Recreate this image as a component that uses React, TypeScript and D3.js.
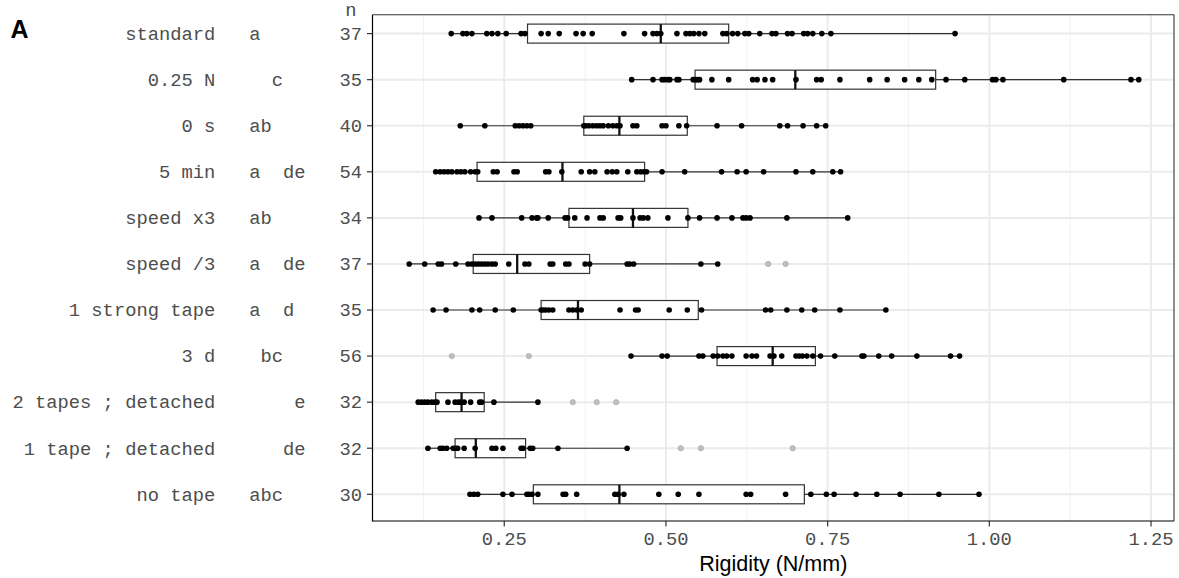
import React from 'react';
import * as d3 from 'd3';

// ---------- data ----------
const categories = [
  'standard', '0.25 N', '0 s', '5 min', 'speed x3', 'speed /3',
  '1 strong tape', '3 d', '2 tapes ; detached', '1 tape ; detached', 'no tape',
];
const letterGroups = ['a    ', '  c  ', 'ab   ', 'a  de', 'ab   ', 'a  de', 'a  d ', ' bc  ', '    e', '   de', 'abc  '];
const nCounts = [37, 35, 40, 54, 34, 37, 35, 56, 32, 32, 30];

// box statistics
const q1s = [0.286, 0.545, 0.373, 0.208, 0.350, 0.202, 0.307, 0.579, 0.144, 0.174, 0.295];
const medians = [0.492, 0.700, 0.428, 0.340, 0.449, 0.270, 0.364, 0.665, 0.184, 0.206, 0.428];
const q3s = [0.597, 0.917, 0.533, 0.467, 0.534, 0.382, 0.550, 0.731, 0.219, 0.283, 0.714];

// observations (within whiskers)
const standardPts = [0.168, 0.186, 0.192, 0.200, 0.223, 0.231, 0.240, 0.253, 0.276, 0.282, 0.307, 0.318, 0.335, 0.361, 0.372, 0.386, 0.435, 0.467, 0.480, 0.486, 0.492, 0.517, 0.531, 0.537, 0.543, 0.551, 0.560, 0.588, 0.594, 0.603, 0.611, 0.622, 0.628, 0.645, 0.664, 0.670, 0.688, 0.695, 0.713, 0.719, 0.727, 0.741, 0.755, 0.947];
const force025Pts = [0.447, 0.480, 0.494, 0.498, 0.503, 0.506, 0.517, 0.520, 0.542, 0.546, 0.549, 0.552, 0.571, 0.597, 0.634, 0.641, 0.653, 0.665, 0.701, 0.733, 0.740, 0.769, 0.815, 0.842, 0.869, 0.891, 0.911, 0.933, 0.962, 1.005, 1.010, 1.021, 1.115, 1.219, 1.231];
const zeroSecPts = [0.182, 0.220, 0.267, 0.273, 0.279, 0.285, 0.291, 0.373, 0.376, 0.381, 0.387, 0.393, 0.398, 0.403, 0.411, 0.418, 0.424, 0.429, 0.449, 0.455, 0.494, 0.500, 0.520, 0.532, 0.579, 0.617, 0.676, 0.688, 0.712, 0.733, 0.747];
const fiveMinPts = [0.144, 0.151, 0.157, 0.163, 0.169, 0.177, 0.183, 0.189, 0.198, 0.205, 0.209, 0.233, 0.239, 0.265, 0.270, 0.314, 0.319, 0.339, 0.369, 0.382, 0.390, 0.409, 0.417, 0.424, 0.441, 0.455, 0.461, 0.466, 0.470, 0.494, 0.529, 0.586, 0.610, 0.624, 0.651, 0.701, 0.727, 0.758, 0.770];
const speedX3Pts = [0.211, 0.231, 0.277, 0.293, 0.300, 0.302, 0.318, 0.344, 0.348, 0.359, 0.378, 0.398, 0.403, 0.426, 0.430, 0.449, 0.460, 0.465, 0.472, 0.503, 0.534, 0.552, 0.579, 0.602, 0.619, 0.624, 0.630, 0.687, 0.781];
const speedDiv3Pts = [0.103, 0.127, 0.148, 0.153, 0.175, 0.194, 0.200, 0.205, 0.210, 0.215, 0.220, 0.225, 0.231, 0.236, 0.257, 0.282, 0.288, 0.321, 0.325, 0.345, 0.350, 0.375, 0.382, 0.440, 0.444, 0.450, 0.554, 0.580];
const strongTapePts = [0.140, 0.160, 0.200, 0.212, 0.236, 0.264, 0.307, 0.310, 0.314, 0.319, 0.325, 0.350, 0.356, 0.362, 0.369, 0.429, 0.453, 0.457, 0.505, 0.533, 0.555, 0.654, 0.662, 0.687, 0.710, 0.730, 0.769, 0.840];
const threeDayPts = [0.446, 0.494, 0.502, 0.551, 0.557, 0.573, 0.580, 0.588, 0.594, 0.602, 0.624, 0.633, 0.640, 0.661, 0.667, 0.679, 0.701, 0.706, 0.711, 0.718, 0.727, 0.739, 0.761, 0.803, 0.806, 0.829, 0.849, 0.888, 0.940, 0.954];
const twoTapesPts = [0.117, 0.122, 0.127, 0.132, 0.138, 0.143, 0.146, 0.163, 0.174, 0.179, 0.183, 0.188, 0.198, 0.212, 0.215, 0.234, 0.302];
const oneTapePts = [0.132, 0.151, 0.155, 0.161, 0.171, 0.175, 0.178, 0.188, 0.205, 0.231, 0.237, 0.248, 0.276, 0.279, 0.290, 0.294, 0.333, 0.440];
const noTapePts = [0.197, 0.203, 0.209, 0.248, 0.262, 0.285, 0.288, 0.293, 0.302, 0.341, 0.345, 0.362, 0.421, 0.426, 0.435, 0.489, 0.519, 0.551, 0.624, 0.631, 0.685, 0.724, 0.748, 0.760, 0.794, 0.826, 0.862, 0.922, 0.984];

// outliers
const speedDiv3Out = [0.658, 0.685];
const threeDayOut = [0.169, 0.288];
const twoTapesOut = [0.356, 0.393, 0.423];
const oneTapeOut = [0.523, 0.554, 0.696];

const pointsByGroup = [standardPts, force025Pts, zeroSecPts, fiveMinPts, speedX3Pts, speedDiv3Pts, strongTapePts, threeDayPts, twoTapesPts, oneTapePts, noTapePts];
const outliersByGroup = [[], [], [], [], [], speedDiv3Out, [], threeDayOut, twoTapesOut, oneTapeOut, []];

const xMajorTicks = [0.25, 0.5, 0.75, 1.0, 1.25];
const xMinorTicks = [0.125, 0.375, 0.625, 0.875, 1.125];
const xDomain = [0.0463, 1.2855];
const xTitle = 'Rigidity (N/mm)';

// ---------- layout ----------
const W = 1179, H = 578;
const panel = { left: 372.5, right: 1174, top: 14.7, bottom: 521 };
const monoFont = "'Liberation Mono', 'DejaVu Sans Mono', monospace";
const sansFont = "'Liberation Sans', Arial, sans-serif";
const axisGray = '#4D4D4D';
const monoSize = 18.8;
const charW = monoSize * 0.6001;
const labelRight = 362;

export default function App() {
  const x = d3.scaleLinear().domain(xDomain).range([panel.left, panel.right]);
  const y = d3.scalePoint<string>().domain(categories).range([33.6, 494.3]);
  const boxH = 19;

  return (
    <svg width={W} height={H} style={{ position: 'absolute', left: 0, top: 0, background: '#fff' }}>
      <rect x={0} y={0} width={W} height={H} fill="#fff" />
      {/* grid */}
      {xMinorTicks.map((t) => (
        <line key={'mn' + t} x1={x(t)} x2={x(t)} y1={panel.top} y2={panel.bottom} stroke="#F2F2F2" strokeWidth={1} />
      ))}
      {xMajorTicks.map((t) => (
        <line key={'mj' + t} x1={x(t)} x2={x(t)} y1={panel.top} y2={panel.bottom} stroke="#EBEBEB" strokeWidth={2} />
      ))}
      {categories.map((c) => (
        <line key={'hg' + c} x1={panel.left} x2={panel.right} y1={y(c)} y2={y(c)} stroke="#EBEBEB" strokeWidth={2} />
      ))}

      {/* boxplots */}
      {categories.map((c, i) => {
        const cy = y(c) as number;
        const pts = pointsByGroup[i];
        const lo = d3.min(pts) as number;
        const hi = d3.max(pts) as number;
        return (
          <g key={'box' + c}>
            <line x1={x(lo)} x2={x(q1s[i])} y1={cy} y2={cy} stroke="#333" strokeWidth={1.2} />
            <line x1={x(q3s[i])} x2={x(hi)} y1={cy} y2={cy} stroke="#333" strokeWidth={1.2} />
            <rect x={x(q1s[i])} y={cy - boxH / 2} width={x(q3s[i]) - x(q1s[i])} height={boxH} fill="#fff" stroke="#333" strokeWidth={1.2} />
            <line x1={x(medians[i])} x2={x(medians[i])} y1={cy - boxH / 2} y2={cy + boxH / 2} stroke="#111" strokeWidth={2.3} />
          </g>
        );
      })}

      {/* outliers */}
      {categories.map((c, i) =>
        outliersByGroup[i].map((v, j) => (
          <circle key={'o' + i + '-' + j} cx={x(v)} cy={y(c)} r={2.7} fill="#BEBEBE" stroke="#A6A6A6" strokeWidth={0.6} />
        ))
      )}
      {/* points */}
      {categories.map((c, i) =>
        pointsByGroup[i].map((v, j) => (
          <circle key={'p' + i + '-' + j} cx={x(v)} cy={y(c)} r={2.8} fill="#000" />
        ))
      )}

      {/* panel border */}
      <line x1={panel.left} x2={panel.right} y1={panel.top} y2={panel.top} stroke="#333" strokeWidth={1.1} />
      <line x1={panel.right} x2={panel.right} y1={panel.top} y2={panel.bottom} stroke="#333" strokeWidth={1.1} />
      <line x1={panel.left} x2={panel.left} y1={panel.top} y2={panel.bottom + 0.5} stroke="#000" strokeWidth={1.2} />
      <line x1={panel.left} x2={panel.right} y1={panel.bottom} y2={panel.bottom} stroke="#000" strokeWidth={1.2} />

      {/* y axis ticks & labels: name | letter groups | n */}
      {categories.map((c, i) => {
        const ty = (y(c) as number) + 6.3;
        return (
          <g key={'yl' + c}>
            <line x1={panel.left - 5.5} x2={panel.left} y1={y(c)} y2={y(c)} stroke="#333" strokeWidth={1.2} />
            <text x={labelRight - 13 * charW} y={ty} textAnchor="end" fontFamily={monoFont} fontSize={monoSize}
              fill={axisGray} style={{ whiteSpace: 'pre' }}>
              {c}
            </text>
            <text x={labelRight - 10 * charW} y={ty} textAnchor="start" fontFamily={monoFont} fontSize={monoSize}
              fill={axisGray} style={{ whiteSpace: 'pre' }}>
              {letterGroups[i].trimEnd()}
            </text>
            <text x={labelRight} y={ty} textAnchor="end" fontFamily={monoFont} fontSize={monoSize} fill={axisGray}>
              {String(nCounts[i])}
            </text>
          </g>
        );
      })}
      <text x={351} y={16} textAnchor="middle" fontFamily={monoFont} fontSize={monoSize} fill={axisGray}>n</text>

      {/* x axis ticks & labels */}
      {xMajorTicks.map((t) => (
        <g key={'xt' + t}>
          <line x1={x(t)} x2={x(t)} y1={panel.bottom} y2={panel.bottom + 5.5} stroke="#333" strokeWidth={1.2} />
          <text x={x(t)} y={544.5} textAnchor="middle" fontFamily={monoFont} fontSize={monoSize} fill={axisGray}>
            {d3.format('.2f')(t)}
          </text>
        </g>
      ))}
      <text x={(panel.left + panel.right) / 2} y={570.5} textAnchor="middle" fontFamily={sansFont} fontSize={21.5} fill="#000">
        {xTitle}
      </text>

      <text x={10.5} y={38} fontFamily={sansFont} fontWeight="bold" fontSize={25} fill="#000">A</text>
    </svg>
  );
}
